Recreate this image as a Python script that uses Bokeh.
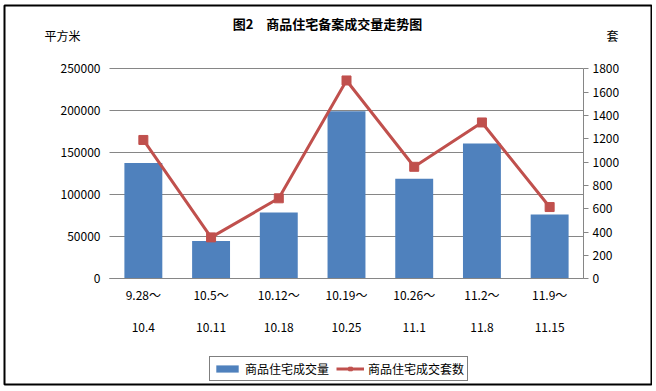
from bokeh.plotting import figure
from bokeh.models import (Range1d, LinearAxis, FixedTicker, Legend, LegendItem, Label,
                          ColumnDataSource, BoxAnnotation)
from bokeh.embed import file_html
from bokeh.resources import INLINE

# ---- data ----
week_start = ["9.28～", "10.5～", "10.12～", "10.19～", "10.26～", "11.2～", "11.9～"]
week_end = ["10.4", "10.11", "10.18", "10.25", "11.1", "11.8", "11.15"]
area = [138000, 45000, 79000, 199500, 119000, 161000, 76500]      # 商品住宅成交量 (平方米)
units = [1190, 355, 690, 1700, 960, 1340, 615]                    # 商品住宅成交套数 (套)
left_ticks = [0, 50000, 100000, 150000, 200000, 250000]
right_ticks = [0, 200, 400, 600, 800, 1000, 1200, 1400, 1600, 1800]

title_text = "图2　商品住宅备案成交量走势图"
series_names = ["商品住宅成交量", "商品住宅成交套数"]
left_unit, right_unit = "平方米", "套"

xpos = list(range(len(week_start)))
src = ColumnDataSource(dict(x=xpos, area=area, units=units))

# ---- layout geometry (pixels) ----
W, H = 652, 388
PL, PR, PT, PB = 109, 583, 68.3, 278.3       # plot area box
NCAT = len(week_start)
LMAX, RMAX = left_ticks[-1], right_ticks[-1]

xs = (PR - PL) / NCAT                        # px per category
x0 = -0.5 - PL / xs
x1 = x0 + W / xs
ly = (PB - PT) / LMAX
ry = (PB - PT) / RMAX


def px2x(px):
    return x0 + px / xs


def px2y(py):
    return (PB - py) / ly


FONT = "Noto Sans CJK SC"
GRID = "#868686"

p = figure(width=W, height=H, x_range=Range1d(x0, x1),
           y_range=Range1d(-(H - PB) / ly, LMAX + PT / ly),
           output_backend="svg", toolbar_location=None,
           min_border_left=0, min_border_right=0, min_border_top=0, min_border_bottom=0)
p.outline_line_color = None
p.extra_y_ranges = {"cnt": Range1d(-(H - PB) / ry, RMAX + PT / ry)}
p.xaxis.visible = False
p.yaxis.visible = False
p.xgrid.grid_line_color = None

# grid
p.ygrid.ticker = FixedTicker(ticks=left_ticks)
p.ygrid.grid_line_color = GRID
p.ygrid.bounds = (0, LMAX)
grid_by_ticks = False
try:
    p.ygrid.cross_bounds = (-0.5, NCAT - 0.5)
except Exception:
    grid_by_ticks = True
    p.ygrid.grid_line_color = None

bars = p.vbar(x="x", top="area", width=0.56, source=src,
              fill_color="#4F81BD", line_color=None)
ln = p.line(x="x", y="units", source=src, y_range_name="cnt",
            line_color="#C0504D", line_width=3)
mk = p.scatter(x="x", y="units", source=src, y_range_name="cnt",
               marker="square", size=9, fill_color="#C0504D", line_color="#C0504D")

# left axis
ya = LinearAxis(fixed_location=-0.5, ticker=FixedTicker(ticks=left_ticks),
                bounds=(0, LMAX))
ya.axis_line_color = None
ya.major_tick_out = 0
ya.major_tick_in = 0
if grid_by_ticks:
    ya.major_tick_in = int(PR - PL)
    ya.major_tick_line_color = GRID
    ya.level = "underlay"
ya.minor_tick_line_color = None
ya.major_label_standoff = 9
ya.major_label_text_font = FONT
ya.major_label_text_font_size = "12px"
ya.major_label_text_color = "black"
ya.formatter.use_scientific = False
p.add_layout(ya, "left")

# right axis
ra = LinearAxis(y_range_name="cnt", fixed_location=NCAT - 0.5,
                ticker=FixedTicker(ticks=right_ticks), bounds=(0, RMAX))
ra.axis_line_color = GRID
ra.major_tick_line_color = GRID
ra.major_tick_out = 5
ra.major_tick_in = 0
ra.minor_tick_line_color = None
ra.major_label_standoff = 4
ra.major_label_text_font = FONT
ra.major_label_text_font_size = "12px"
ra.major_label_text_color = "black"
p.add_layout(ra, "right")

# bottom axis: first line of the week labels
xa = LinearAxis(fixed_location=0, ticker=FixedTicker(ticks=xpos),
                bounds=(-0.5, NCAT - 0.5),
                major_label_overrides=dict(zip(xpos, week_start)))
xa.axis_line_color = GRID
xa.major_tick_line_color = None
xa.major_tick_out = 0
xa.major_tick_in = 0
xa.minor_tick_line_color = None
xa.major_label_standoff = 7
xa.major_label_text_font = FONT
xa.major_label_text_font_size = "12px"
xa.major_label_text_color = "black"
p.add_layout(xa, "below")

# second line of the week labels
xb = LinearAxis(fixed_location=0, ticker=FixedTicker(ticks=xpos),
                major_label_overrides=dict(zip(xpos, week_end)))
xb.axis_line_color = None
xb.major_tick_line_color = None
xb.major_tick_out = 0
xb.major_tick_in = 0
xb.minor_tick_line_color = None
xb.major_label_standoff = 44
xb.major_label_text_font = FONT
xb.major_label_text_font_size = "12px"
xb.major_label_text_color = "black"
p.add_layout(xb, "below")

# legend
legend = Legend(items=[LegendItem(label=series_names[0], renderers=[bars]),
                       LegendItem(label=series_names[1], renderers=[ln, mk])],
                orientation="horizontal", location=(209, H - 381),
                border_line_color="black", border_line_width=1,
                background_fill_color="white", background_fill_alpha=1,
                label_text_font=FONT, label_text_font_size="12px",
                label_text_color="black",
                label_height=14, glyph_width=28, glyph_height=9, label_standoff=4,
                spacing=7, padding=3, margin=0)
p.add_layout(legend, "center")

# title and unit labels
p.add_layout(Label(x=px2x(327), y=px2y(23), text=title_text, text_color="black",
                   text_font=FONT, text_font_size="13px", text_font_style="bold",
                   text_align="center", text_baseline="middle"))
p.add_layout(Label(x=px2x(62), y=px2y(35), text=left_unit, text_color="black",
                   text_font=FONT, text_font_size="12px",
                   text_align="center", text_baseline="middle"))
p.add_layout(Label(x=px2x(612), y=px2y(35), text=right_unit, text_color="black",
                   text_font=FONT, text_font_size="12px",
                   text_align="center", text_baseline="middle"))

# outer chart border
p.add_layout(BoxAnnotation(left=px2x(4), right=px2x(651), top=px2y(5), bottom=px2y(384),
                           fill_alpha=0, line_color="black", line_alpha=1,
                           line_width=2, level="overlay"))

open("out.html", "w").write(file_html(p, INLINE))
